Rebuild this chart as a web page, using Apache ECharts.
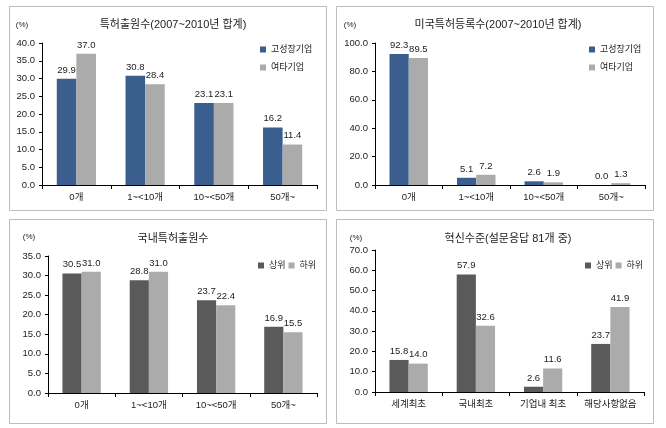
<!DOCTYPE html>
<html><head><meta charset="utf-8">
<script src="https://cdn.jsdelivr.net/npm/echarts@6/dist/echarts.min.js"></script>
<style>html,body{margin:0;padding:0;background:#fff}#c{width:666px;height:428px}</style>
</head><body><div id="c"></div>
<script>
var categoriesCount = ['0개', '1~<10개', '10~<50개', '50개~'];
var categoriesLevel = ['세계최초', '국내최초', '기업내 최초', '해당사항없음'];
var patentHigh = [29.9, 30.8, 23.1, 16.2];
var patentOther = [37.0, 28.4, 23.1, 11.4];
var usHigh = [92.3, 5.1, 2.6, 0.0];
var usOther = [89.5, 7.2, 1.9, 1.3];
var domUpper = [30.5, 28.8, 23.7, 16.9];
var domLower = [31.0, 31.0, 22.4, 15.5];
var innovUpper = [15.8, 57.9, 2.6, 23.7];
var innovLower = [14.0, 32.6, 11.6, 41.9];
var titles = ['특허출원수(2007~2010년 합계)', '미국특허등록수(2007~2010년 합계)', '국내특허출원수', '혁신수준(설문응답 81개 중)'];
var yMax = [40, 100, 35, 70];
var yStep = [5, 20, 5, 10];

var FONT = 'Liberation Sans, Noto Sans CJK KR, sans-serif';
var TXT = '#222';
var BLUE = '#3A5F8F', GRAY = '#ABABAB', DARK = '#5A5A5A';

var grids = [
  {left: 42, top: 43, width: 275, height: 142},
  {left: 375, top: 43, width: 270, height: 142},
  {left: 48, top: 256, width: 269, height: 137},
  {left: 375, top: 250, width: 269, height: 142}
];
var panels = [
  {x: 9, y: 6, w: 317, h: 204},
  {x: 336, y: 6, w: 317, h: 204},
  {x: 9, y: 219, w: 317, h: 204},
  {x: 336, y: 219, w: 317, h: 204}
];
var titlePos = [[168, 14], [493, 14], [168, 228], [503, 228]];
var pctPos = [[22, 25], [350, 25], [29, 237], [356, 238]];

var xAxes = [], yAxes = [];
for (var i = 0; i < 4; i++) {
  xAxes.push({
    type: 'category', gridIndex: i, data: i === 3 ? categoriesLevel : categoriesCount,
    axisLine: {lineStyle: {color: '#000', width: 1}},
    axisTick: {show: true, length: 4, lineStyle: {color: '#000'}},
    axisLabel: {color: TXT, fontSize: 9.5, fontFamily: FONT, margin: 8, interval: 0},
    splitLine: {show: false}
  });
  yAxes.push({
    type: 'value', gridIndex: i, min: 0, max: yMax[i], interval: yStep[i],
    axisLine: {show: true, lineStyle: {color: '#000', width: 1}},
    axisTick: {show: true, length: 3, lineStyle: {color: '#000'}},
    axisLabel: {color: TXT, fontSize: 9.5, fontFamily: FONT, margin: 7,
      formatter: function (v) { return v.toFixed(1); }},
    splitLine: {show: false}
  });
}

function bar(name, data, idx, color) {
  return {
    type: 'bar', name: name, data: data, xAxisIndex: idx, yAxisIndex: idx,
    barGap: '0%', barCategoryGap: '43%',
    itemStyle: {color: color},
    label: {show: true, position: 'top', distance: 4, color: TXT, fontSize: 9.5, fontFamily: FONT,
      formatter: function (p) { return p.value.toFixed(1); }},
    emphasis: {disabled: true}, animation: false
  };
}

var series = [
  bar('고성장기업', patentHigh, 0, BLUE), bar('여타기업', patentOther, 0, GRAY),
  bar('고성장기업', usHigh, 1, BLUE), bar('여타기업', usOther, 1, GRAY),
  bar('상위', domUpper, 2, DARK), bar('하위', domLower, 2, GRAY),
  bar('상위', innovUpper, 3, DARK), bar('하위', innovLower, 3, GRAY)
];

var graphic = [];
panels.forEach(function (p) {
  graphic.push({type: 'rect', shape: {x: p.x + 0.5, y: p.y + 0.5, width: p.w, height: p.h},
    style: {fill: 'none', stroke: '#BDBDBD', lineWidth: 1}, z: -1});
});
pctPos.forEach(function (p) {
  graphic.push({type: 'text', x: p[0], y: p[1], style: {text: '(%)', fill: TXT, font: '8px ' + FONT, textAlign: 'center', textVerticalAlign: 'middle'}});
});

var titleOpts = titles.map(function (t, i) {
  return {text: t, left: titlePos[i][0], top: titlePos[i][1], textAlign: 'center',
    textStyle: {fontSize: 11, fontWeight: 'normal', color: TXT, fontFamily: FONT}};
});

var legTxt = {fontSize: 9, color: TXT, fontFamily: FONT};
var legends = [
  {data: ['고성장기업', '여타기업'], orient: 'vertical', left: 255, top: 40, itemWidth: 6, itemHeight: 6, itemGap: 9, icon: 'rect', textStyle: legTxt, selectedMode: false},
  {data: ['고성장기업', '여타기업'], orient: 'vertical', left: 584, top: 40, itemWidth: 6, itemHeight: 6, itemGap: 9, icon: 'rect', textStyle: legTxt, selectedMode: false},
  {data: ['상위', '하위'], orient: 'horizontal', left: 253, top: 256, itemWidth: 6, itemHeight: 6, itemGap: 3, icon: 'rect', textStyle: legTxt, selectedMode: false},
  {data: ['상위', '하위'], orient: 'horizontal', left: 580, top: 256, itemWidth: 6, itemHeight: 6, itemGap: 3, icon: 'rect', textStyle: legTxt, selectedMode: false}
];

var chart = echarts.init(document.getElementById('c'), null, {renderer: 'canvas'});
chart.setOption({
  animation: false,
  backgroundColor: '#fff',
  title: titleOpts,
  legend: legends,
  grid: grids,
  xAxis: xAxes,
  yAxis: yAxes,
  series: series,
  graphic: graphic
});
</script></body></html>
